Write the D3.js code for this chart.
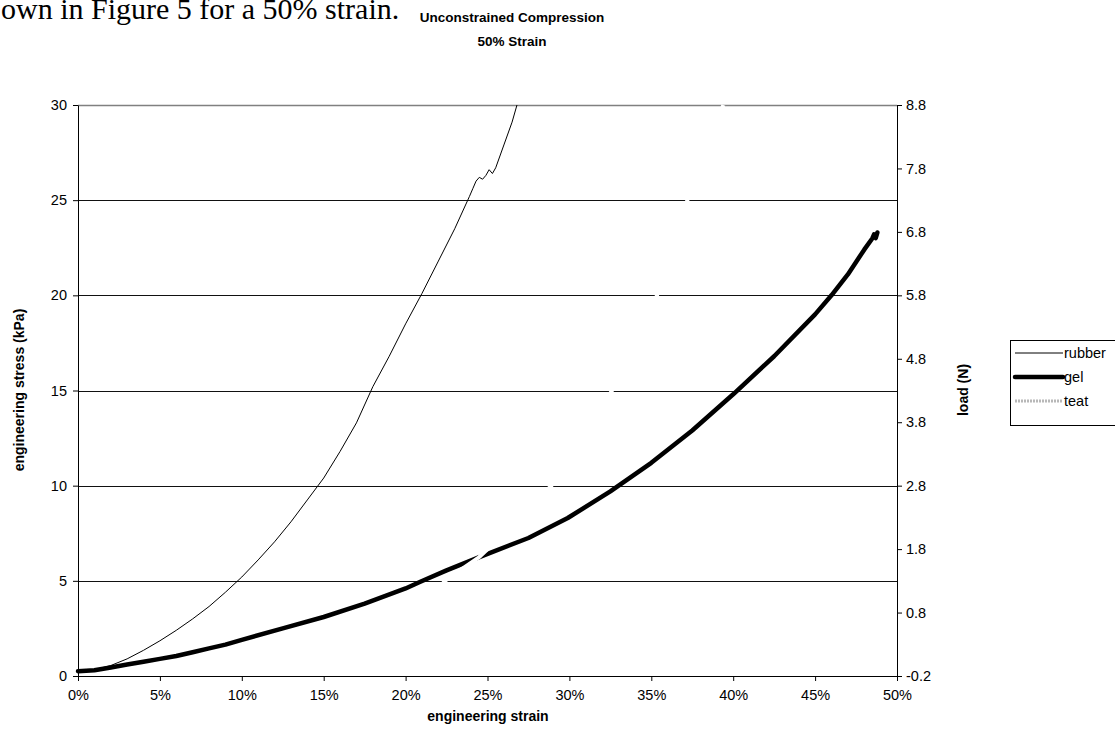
<!DOCTYPE html>
<html><head><meta charset="utf-8">
<script src="https://cdn.jsdelivr.net/npm/d3@7"></script>
<style>
body{margin:0;background:#fff}
text{font-family:"Liberation Sans",Arial,sans-serif;fill:#000}
</style>
</head><body>
<svg id="c" width="1115" height="740"></svg>
<script>
// ---- data ----
const strainTicks = [0,5,10,15,20,25,30,35,40,45,50];
const stressTicks = [0,5,10,15,20,25,30];
const loadTicks = [-0.2,0.8,1.8,2.8,3.8,4.8,5.8,6.8,7.8,8.8];

const rubberStrain = [0,1,2,3,4,5,6,7,8,9,10,11,12,13,14,15,16,17,18,19,20,21,22,23,23.9,24.1,24.3,24.5,24.7,24.9,25.1,25.3,25.5,26.0,26.5,26.8];
const rubberStress = [0.25,0.33,0.55,0.9,1.35,1.85,2.4,3.0,3.65,4.4,5.2,6.1,7.05,8.1,9.25,10.4,11.8,13.3,15.2,16.8,18.5,20.1,21.8,23.5,25.2,25.6,26.0,26.2,26.1,26.3,26.6,26.4,26.7,27.9,29.1,30.0];

const gelStrain = [0,1,2,3,4,5,6,7,8,9,10,12.5,15,17.5,20,20.9,22.5,24.5,27.5,29.9,32.5,35,37.5,40,42.5,45,46,47,48,48.5,48.6,48.7,48.8];
const gelStress = [0.25,0.3,0.45,0.6,0.75,0.9,1.05,1.25,1.45,1.65,1.9,2.5,3.1,3.8,4.6,4.95,5.55,6.25,7.25,8.3,9.7,11.2,12.9,14.8,16.8,19.0,20.0,21.1,22.4,23.0,23.2,23.0,23.3];

const teatStrain = [0,5,10,15,18,20,21.5,22.4,24.5,26.5,28.9,30.8,32.6,34.0,35.35,36.3,37.2,38.3,39.4];
const teatStress = [0,0,0.3,1.0,1.9,3.0,4.0,5.0,6.25,7.9,10,12.5,15,17.5,20,22.5,25,27.5,30];

const seriesNames = ["rubber","gel","teat"];

// ---- chart ----
const svg = d3.select("#c");
svg.append("rect").attr("width",1115).attr("height",740).attr("fill","#fff");

const x = d3.scaleLinear().domain([0,50]).range([78,897]);
const y = d3.scaleLinear().domain([0,30]).range([676,105]);
const yR = d3.scaleLinear().domain([-0.2,8.8]).range([676,105]);

// document text fragment
svg.append("text").attr("x",1).attr("y",19)
  .style("font-family","'Liberation Serif','Times New Roman',serif")
  .style("font-size","30px").text("own in Figure 5 for a 50% strain.");

// title
svg.append("text").attr("x",512).attr("y",22).attr("text-anchor","middle")
  .style("font-size","13.5px").style("font-weight","bold").text("Unconstrained Compression");
svg.append("text").attr("x",512).attr("y",46).attr("text-anchor","middle")
  .style("font-size","13.5px").style("font-weight","bold").text("50% Strain");

// gridlines
svg.append("g").selectAll("line").data(stressTicks.filter(d=>d>0)).join("line")
  .attr("x1",78).attr("x2",897)
  .attr("y1",d=>Math.round(y(d))+0.5).attr("y2",d=>Math.round(y(d))+0.5)
  .attr("stroke",d=>d===30?"#808080":"#111").attr("stroke-width",d=>d===30?1.5:1);

const line = (xs,ys) => d3.line().x((d,i)=>x(xs[i])).y((d,i)=>y(ys[i]))(xs);

svg.append("path").attr("d",line(rubberStrain,rubberStress))
  .attr("fill","none").attr("stroke","#000").attr("stroke-width",1);
svg.append("path").attr("d",line(gelStrain,gelStress))
  .attr("fill","none").attr("stroke","#000").attr("stroke-width",4.5)
  .attr("stroke-linejoin","round").attr("stroke-linecap","round");
svg.append("path").attr("d",line(teatStrain,teatStress))
  .attr("fill","none").attr("stroke","#fff").attr("stroke-width",4);

// axes
const fs = "14.5px";
const gl = svg.append("g").attr("transform","translate(78,0)")
  .call(d3.axisLeft(y).tickValues(stressTicks).tickSize(5).tickSizeOuter(0).tickPadding(6));
const gb = svg.append("g").attr("transform","translate(0,676)")
  .call(d3.axisBottom(x).tickValues(strainTicks).tickFormat(d=>d+"%").tickSize(5).tickSizeOuter(0).tickPadding(9));
const gr = svg.append("g").attr("transform","translate(897,0)")
  .call(d3.axisRight(yR).tickValues(loadTicks).tickFormat(d=>d.toFixed(1)).tickSize(5).tickSizeOuter(0).tickPadding(4));
[gl,gb,gr].forEach(g=>{
  g.selectAll("text").style("font-size",fs).style("font-family","'Liberation Sans',Arial,sans-serif").attr("fill","#000");
  g.selectAll("line,path").attr("stroke","#000");
});

// axis titles
svg.append("text").attr("x",488).attr("y",721).attr("text-anchor","middle")
  .style("font-size","14px").style("font-weight","bold").text("engineering strain");
svg.append("text").attr("transform","translate(24,390) rotate(-90)").attr("text-anchor","middle")
  .style("font-size","14px").style("font-weight","bold").text("engineering stress (kPa)");
svg.append("text").attr("transform","translate(968,390) rotate(-90)").attr("text-anchor","middle")
  .style("font-size","14px").style("font-weight","bold").text("load (N)");

// legend
const lg = svg.append("g");
lg.append("rect").attr("x",1010.5).attr("y",340.5).attr("width",130).attr("height",85)
  .attr("fill","#fff").attr("stroke","#000").attr("stroke-width",1);
const legStyles = [
  {stroke:"#000",w:1,dash:null},
  {stroke:"#000",w:4.5,dash:null},
  {stroke:"#b8b8b8",w:3,dash:"2,1"}
];
seriesNames.forEach((n,i)=>{
  const yy = 353 + i*24;
  lg.append("line").attr("x1",1015).attr("x2",1063).attr("y1",yy).attr("y2",yy)
    .attr("stroke",legStyles[i].stroke).attr("stroke-width",legStyles[i].w)
    .attr("stroke-dasharray",legStyles[i].dash).attr("stroke-linecap", i===1?"round":"butt");
  lg.append("text").attr("x",1064).attr("y",yy+5).style("font-size",fs).text(n);
});
</script>
</body></html>
